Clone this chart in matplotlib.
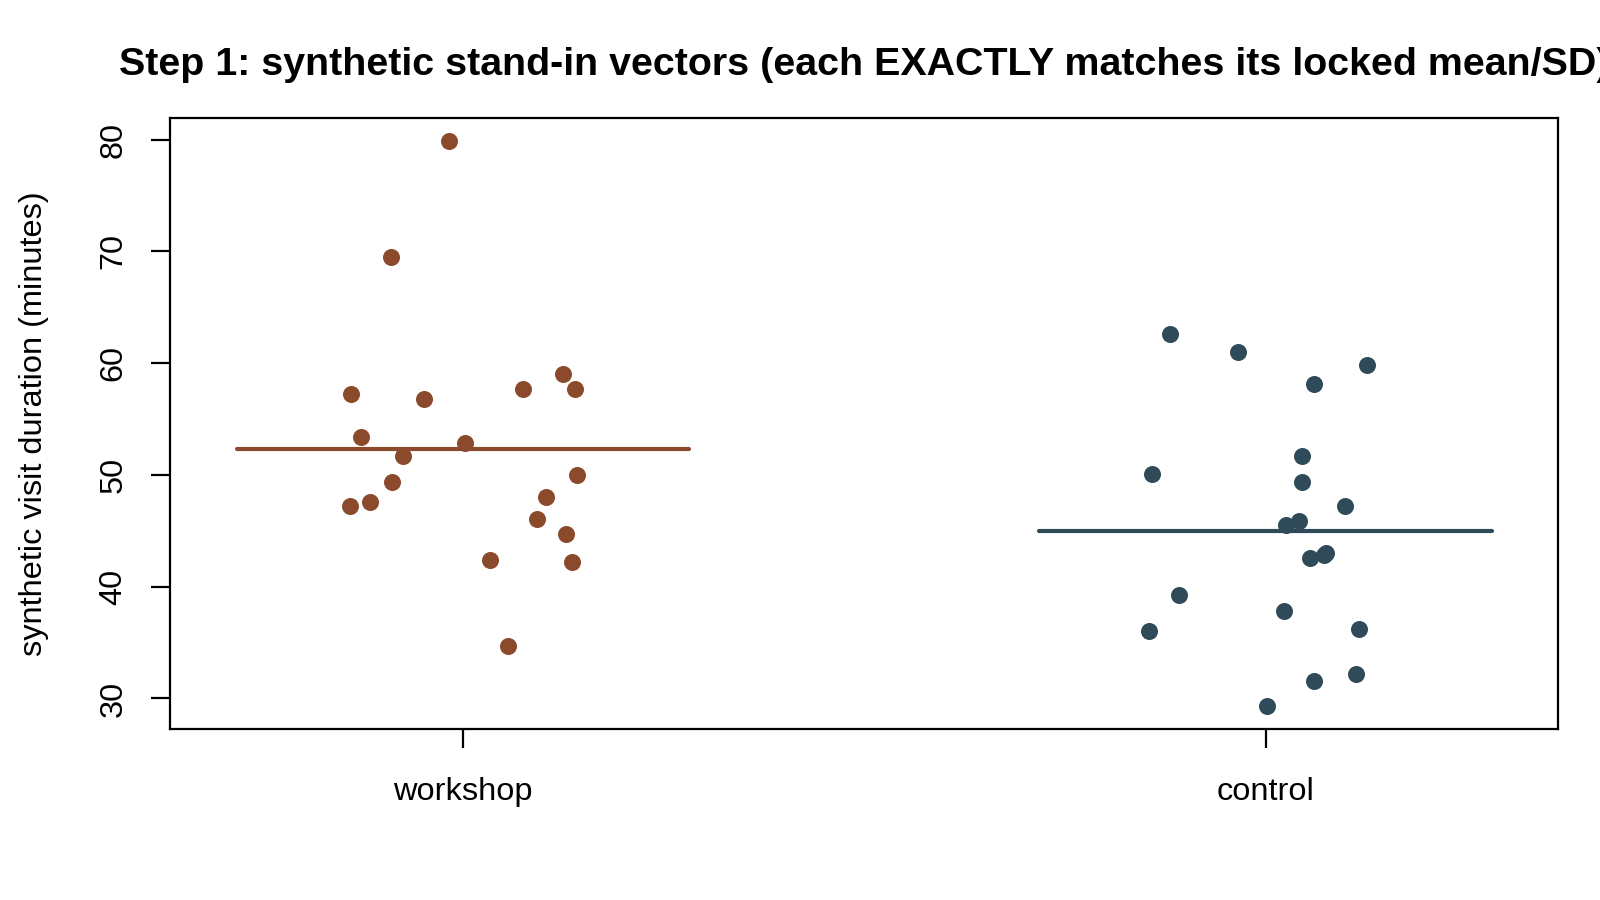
import matplotlib
matplotlib.use("Agg")
import matplotlib.pyplot as plt
import numpy as np

# ---- data ----
groups = ["workshop", "control"]
group_pos = [1, 2]

workshop_vals = [79.9, 69.5, 57.2, 56.8, 57.7, 59.0, 57.7, 53.4, 52.9, 51.7,
                 50.0, 49.4, 47.6, 47.2, 48.0, 46.1, 44.7, 42.4, 42.2, 34.7]
workshop_jitter = [-0.018, -0.090, -0.140, -0.049, 0.075, 0.124, 0.139, -0.127, 0.002, -0.075,
                   0.142, -0.089, -0.116, -0.141, 0.103, 0.092, 0.128, 0.033, 0.135, 0.056]

control_vals = [62.6, 61.0, 59.8, 58.1, 51.7, 50.1, 49.4, 47.2, 45.9, 45.5,
                42.6, 43.0, 42.8, 39.3, 37.8, 36.0, 36.2, 32.2, 31.6, 29.3]
control_jitter = [-0.119, -0.034, 0.126, 0.061, 0.046, -0.141, 0.045, 0.099, 0.042, 0.026,
                  0.055, 0.075, 0.073, -0.108, 0.023, -0.145, 0.117, 0.113, 0.061, 0.002]

group_means = [52.3, 45.0]
y_ticks = [30, 40, 50, 60, 70, 80]

title = "Step 1: synthetic stand-in vectors (each EXACTLY matches its locked mean/SD)"
ylabel = "synthetic visit duration (minutes)"

colors = ["#8B4A2B", "#2F4B5A"]

plt.rcParams['font.family'] = ['Liberation Sans', 'DejaVu Sans']

fig = plt.figure(figsize=(16, 9), dpi=100)
ax = fig.add_axes([0.1065, 0.1904, 0.974 - 0.1065, 0.8684 - 0.1904])

for pos, vals, jit, mean, col in zip(group_pos,
                                     [workshop_vals, control_vals],
                                     [workshop_jitter, control_jitter],
                                     group_means, colors):
    xs = np.array(jit) + pos
    ax.scatter(xs, vals, s=150, color=col, linewidths=0, zorder=3)
    ax.plot([pos - 0.282, pos + 0.282], [mean, mean], color=col, lw=3.0,
            solid_capstyle='round', zorder=2)

ax.set_xlim(0.635, 2.365)
ax.set_ylim(27.3, 81.9)

fs = 23.4
ax.set_xticks(group_pos)
ax.set_xticklabels(groups, fontsize=fs)
ax.set_yticks(y_ticks)
ax.set_yticklabels([str(t) for t in y_ticks], fontsize=fs, rotation=90, va='center')

for sp in ax.spines.values():
    sp.set_linewidth(1.6)
    sp.set_color('black')
ax.tick_params(axis='both', direction='out', length=13.7, width=1.6, color='black')
ax.tick_params(axis='x', pad=21)
ax.tick_params(axis='y', pad=16.5)

fig.text(34 / 1600, 0.5294, ylabel, rotation=90, ha='center', va='center', fontsize=fs)

# title centred on the plot region, sized to match reference width
cx = (0.1065 + 0.974) / 2
t = fig.text(cx, 1 - 75 / 900, title, ha='center', va='baseline',
             fontsize=24, fontweight='bold')
fig.canvas.draw()
w = t.get_window_extent().width
t.set_fontsize(24 * 1491 / w)

fig.savefig("out.png", dpi=100)
